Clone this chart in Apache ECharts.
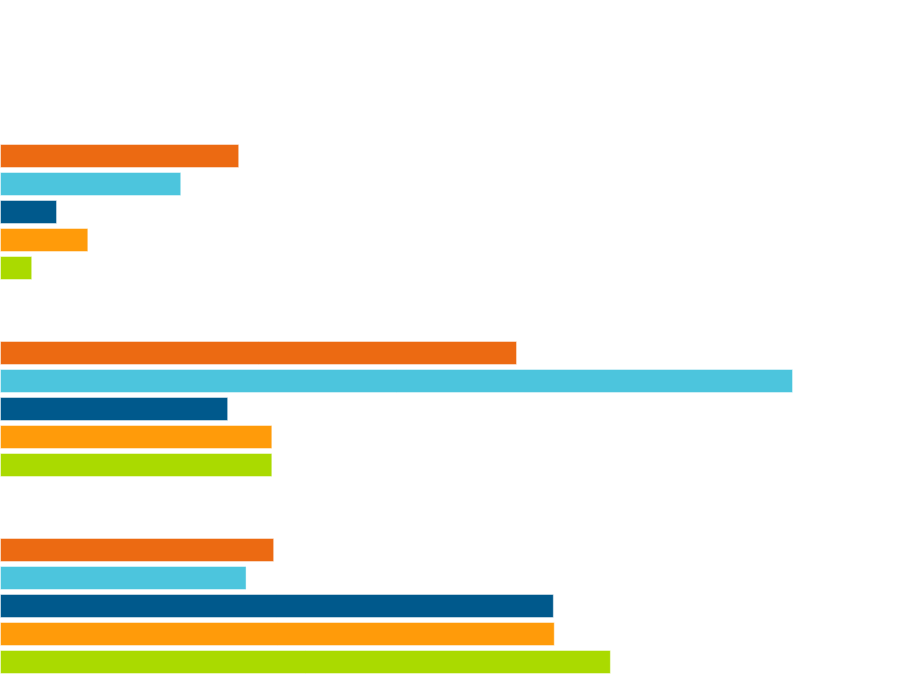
<!DOCTYPE html>
<html>
<head>
<meta charset="utf-8">
<script src="https://cdn.jsdelivr.net/npm/echarts@6/dist/echarts.min.js"></script>
<style>html,body{margin:0;padding:0;background:#fff;}#c{width:920px;height:692px;}</style>
</head>
<body>
<div id="c"></div>
<script>
var categories = ['A', 'B', 'C'];
var seriesNames = ['S1', 'S2', 'S3', 'S4', 'S5'];
var s1 = [26.0, 56.2, 29.8];
var s2 = [19.7, 86.2, 26.8];
var s3 = [6.2, 24.8, 60.2];
var s4 = [9.6, 29.6, 60.3];
var s5 = [3.5, 29.6, 66.4];
var colors = ['#EC6A12', '#4CC5DD', '#00598C', '#FF9B0A', '#AADA00'];

var allData = [s1, s2, s3, s4, s5];
var chart = echarts.init(document.getElementById('c'));
chart.setOption({
  animation: false,
  grid: { left: 0, top: 113.5, width: 920, height: 591, outerBoundsMode: 'none', containLabel: false },
  xAxis: { type: 'value', min: 0, max: 100, show: false },
  yAxis: { type: 'category', data: categories, inverse: true, show: false },
  series: allData.map(function (d, i) {
    return {
      name: seriesNames[i],
      type: 'bar',
      data: d,
      barWidth: 24,
      barGap: '16.67%',
      itemStyle: { color: colors[i], borderColor: 'rgba(255,255,255,0.45)', borderWidth: 1 }
    };
  })
});
</script>
</body>
</html>
